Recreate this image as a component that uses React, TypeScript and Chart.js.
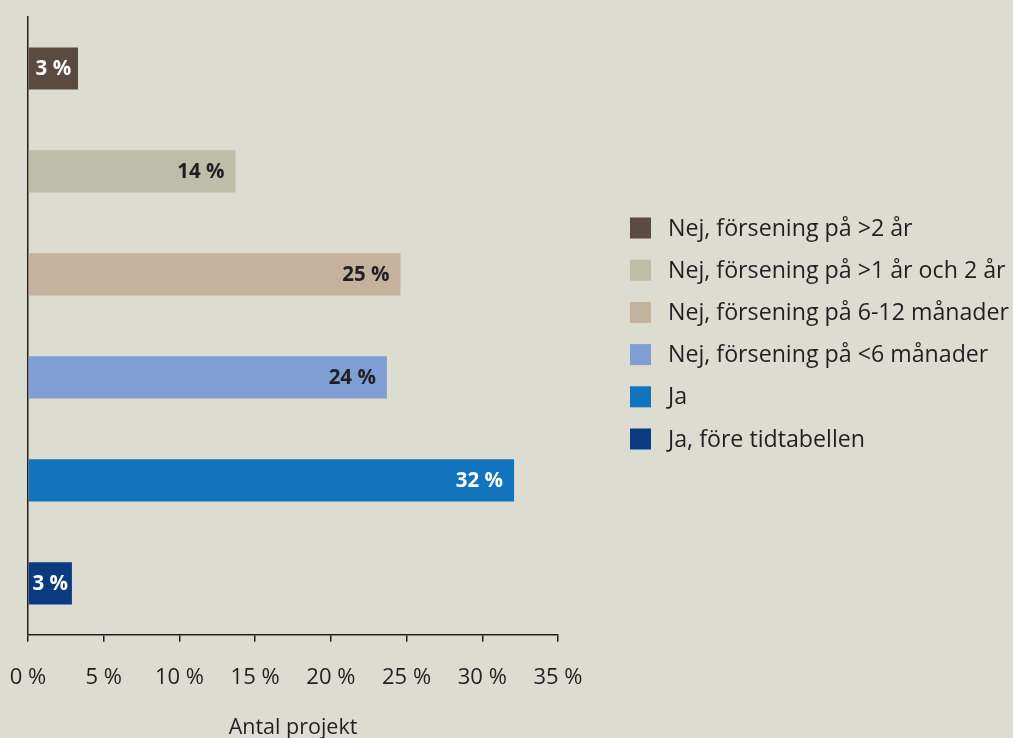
import React, { useEffect, useRef } from 'react';
import { Chart, registerables } from 'chart.js';

Chart.register(...registerables);

const categories = [
  'Nej, försening på >2 år',
  'Nej, försening på >1 år och 2 år',
  'Nej, försening på 6-12 månader',
  'Nej, försening på <6 månader',
  'Ja',
  'Ja, före tidtabellen',
];
const values = [3.3, 13.7, 24.6, 23.7, 32.1, 2.9];
const valueLabels = ['3 %', '14 %', '25 %', '24 %', '32 %', '3 %'];
const barColors = ['#5b4a3f', '#bdbda8', '#c4b29c', '#7f9ed3', '#1174bc', '#0a3a80'];
const labelColors = ['#ffffff', '#231f20', '#231f20', '#231f20', '#ffffff', '#ffffff'];
const xTickStep = 5;
const xMax = 35;
const axisTitle = 'Antal projekt';

const FONT = '"Open Sans"';
const TEXT = '#231f20';
const BG = '#dcdcd1';

const barLabelPlugin = {
  id: 'barLabels',
  afterDatasetsDraw(chart: any) {
    const ctx = chart.ctx;
    const meta = chart.getDatasetMeta(0);
    ctx.save();
    ctx.font = `bold 20.5px ${FONT}`;
    ctx.textBaseline = 'middle';
    meta.data.forEach((bar: any, i: number) => {
      const { x, y, base } = bar.getProps(['x', 'y', 'base'], true);
      const txt = valueLabels[i];
      const tw = ctx.measureText(txt).width;
      const w = x - base;
      ctx.fillStyle = labelColors[i];
      if (w < tw + 16) {
        ctx.textAlign = 'center';
        ctx.fillText(txt, (x + base) / 2, y + 1);
      } else {
        ctx.textAlign = 'right';
        ctx.fillText(txt, x - 11, y + 1);
      }
    });
    ctx.restore();
  },
};

const legendPlugin = {
  id: 'sideLegend',
  afterDraw(chart: any) {
    const ctx = chart.ctx;
    const area = chart.chartArea;
    const x0 = area.right + 72;
    const y0 = area.top + 211;
    const step = 42.2;
    ctx.save();
    ctx.font = `23.2px ${FONT}`;
    ctx.textBaseline = 'middle';
    ctx.textAlign = 'left';
    categories.forEach((c, i) => {
      const cy = y0 + i * step;
      ctx.fillStyle = barColors[i];
      ctx.fillRect(x0, cy - 10.5, 21, 21);
      ctx.fillStyle = TEXT;
      ctx.fillText(c, x0 + 38, cy + 1);
    });
    ctx.restore();
  },
};

export default function App() {
  const ref = useRef<HTMLCanvasElement | null>(null);
  useEffect(() => {
    if (!ref.current) return;
    const chart = new Chart(ref.current, {
      type: 'bar',
      data: {
        labels: categories,
        datasets: [
          {
            data: values,
            backgroundColor: barColors,
            borderWidth: 0,
            barPercentage: 0.41,
            categoryPercentage: 1,
          },
        ],
      },
      options: {
        indexAxis: 'y',
        animation: false,
        responsive: true,
        maintainAspectRatio: false,
        layout: { padding: { top: 17, left: 28, right: 455, bottom: 0 } },
        plugins: {
          legend: { display: false },
          tooltip: { enabled: false },
        },
        scales: {
          x: {
            min: 0,
            max: xMax,
            afterFit: (s: any) => {
              s.paddingLeft = 20;
              s.paddingRight = 25;
            },
            grid: {
              display: true,
              drawOnChartArea: false,
              drawTicks: true,
              tickLength: 7,
              color: TEXT,
              lineWidth: 1.5,
            },
            border: { display: true, color: TEXT, width: 1.5 },
            ticks: {
              stepSize: xTickStep,
              padding: 23,
              color: TEXT,
              font: { family: FONT, size: 22 },
              callback: (v: any) => `${v} %`,
            },
            title: {
              display: true,
              text: axisTitle,
              color: TEXT,
              font: { family: FONT, size: 21.5 },
              padding: { top: 1, bottom: -3 },
            },
          },
          y: {
            afterFit: (s: any) => {
              s.width = 0;
            },
            grid: { display: false },
            border: { display: true, color: TEXT, width: 1.5 },
            ticks: { display: false },
          },
        },
      },
      plugins: [barLabelPlugin, legendPlugin],
    });
    return () => chart.destroy();
  }, []);
  return (
    <div style={{ position: 'fixed', left: 0, top: 0, width: 1013, height: 738, background: BG }}>
      <canvas ref={ref} />
    </div>
  );
}
